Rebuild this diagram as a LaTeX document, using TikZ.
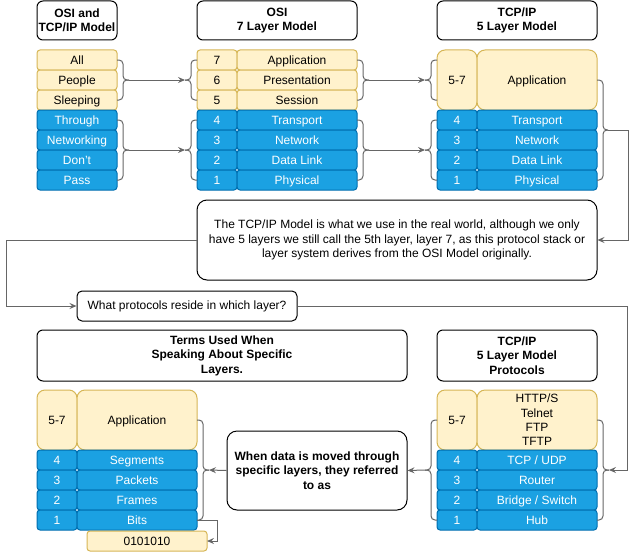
\documentclass[tikz,border=0pt]{standalone}
\usepackage{fontspec}
\setmainfont{Liberation Sans}
\usepackage{tikz}
\usetikzlibrary{calc}
\usetikzlibrary{positioning}
\usetikzlibrary{arrows.meta}

\definecolor{upfill}{HTML}{FFF2CC}
\definecolor{updraw}{HTML}{D6B656}
\definecolor{lowfill}{HTML}{1BA1E2}
\definecolor{lowdraw}{HTML}{006EAF}
\definecolor{wire}{HTML}{666666}

\tikzset{
    cell/.style={rectangle, rounded corners=3pt, minimum height=20pt, inner sep=0pt, outer sep=0pt, line width=1pt, align=center, text height=10pt, text depth=0.6pt, font=\fontsize{12}{14.4}\selectfont},
    upper/.style={cell, fill=upfill, draw=updraw, text=black},
    lower/.style={cell, fill=lowfill, draw=lowdraw, text=white},
    numw/.style={minimum width=40pt},
    namew/.style={minimum width=120pt},
    tall/.style={minimum height=60pt, rounded corners=8pt},
    heading/.style={rectangle, rounded corners=6pt, draw=black, fill=white, line width=1pt, inner sep=0pt, align=center, font=\fontsize{12}{14.4}\selectfont\bfseries},
    note/.style={rectangle, rounded corners=10pt, draw=black, fill=white, line width=1pt, inner sep=0pt, align=center, font=\fontsize{12}{14.4}\selectfont},
    bracket/.style={draw=wire, line width=1pt, rounded corners=4pt},
    link/.style={draw=wire, line width=1pt, rounded corners=0pt, -{Stealth[length=7pt, width=6pt, inset=2.5pt]}},
}

\begin{document}
\begin{tikzpicture}[x=1pt, y=-1pt]
    \useasboundingbox (0,0) rectangle (636,551);

    % headings
    \node [heading, minimum width=80pt, minimum height=39pt] (headmix) at (77,20.5) {OSI and\\TCP/IP Model};
    \node [heading, minimum width=160pt, minimum height=39pt] (headosi) at (277,20.5) {OSI\\7 Layer Model};
    \node [heading, minimum width=160pt, minimum height=39pt] (headtcp) at (517,20.5) {TCP/IP\\5 Layer Model};
    \node [heading, minimum width=370pt, minimum height=51pt] (headterms) at (222,355.5) {Terms Used When\\Speaking About Specific\\Layers.};
    \node [heading, minimum width=160pt, minimum height=51pt] (headproto) at (517,355.5) {TCP/IP\\5 Layer Model\\Protocols};

    % mnemonic
    \foreach \word [count=\i] in {All, People, Sleeping}
        \node [upper, minimum width=80pt] (m\i) at (77,40+20*\i) {\word};
    \foreach \word [count=\i from 4] in {Through, Networking, Don't, Pass}
        \node [lower, minimum width=80pt] (m\i) at (77,40+20*\i) {\word};

    % OSI model
    \foreach \num/\word [count=\i] in {7/Application, 6/Presentation, 5/Session} {
        \node [upper, numw] (on\i) at (217,40+20*\i) {\num};
        \node [upper, namew, right=0pt of on\i] (ow\i) {\word};
    }
    \foreach \num/\word [count=\i from 4] in {4/Transport, 3/Network, 2/{Data Link}, 1/Physical} {
        \node [lower, numw] (on\i) at (217,40+20*\i) {\num};
        \node [lower, namew, right=0pt of on\i] (ow\i) {\word};
    }

    % TCP/IP model
    \node [upper, numw, tall] (t57) at (457,80) {5-7};
    \node [upper, namew, tall, right=0pt of t57] (tapp) {Application};
    \foreach \num/\word [count=\i from 4] in {4/Transport, 3/Network, 2/{Data Link}, 1/Physical} {
        \node [lower, numw] (tn\i) at (457,40+20*\i) {\num};
        \node [lower, namew, right=0pt of tn\i] (tw\i) {\word};
    }

    % terms
    \node [upper, numw, tall] (s57) at (57,420) {5-7};
    \node [upper, namew, tall, right=0pt of s57] (sapp) {Application};
    \foreach \num/\word [count=\i] in {4/Segments, 3/Packets, 2/Frames, 1/Bits} {
        \node [lower, numw] (sn\i) at (57,440+20*\i) {\num};
        \node [lower, namew, right=0pt of sn\i] (sw\i) {\word};
    }
    \node [upper, minimum width=120pt] (bin) at (147,541) {0101010};

    % protocols
    \node [upper, numw, tall] (p57) at (457,420) {5-7};
    \node [upper, namew, tall, text height=, text depth=, right=0pt of p57] (papp) {HTTP/S\\Telnet\\FTP\\TFTP};
    \foreach \num/\word [count=\i] in {4/{TCP / UDP}, 3/Router, 2/{Bridge / Switch}, 1/Hub} {
        \node [lower, numw] (pn\i) at (457,440+20*\i) {\num};
        \node [lower, namew, right=0pt of pn\i] (pw\i) {\word};
    }

    % notes
    \node [note, minimum width=400pt, minimum height=80pt] (story) at (397,240) {The TCP/IP Model is what we use in the real world, although we only\\have 5 layers we still call the 5th layer, layer 7, as this protocol stack or\\layer system derives from the OSI Model originally.};
    \node [note, rounded corners=5pt, minimum width=220pt, minimum height=30pt] (ask) at (187,306) {What protocols reside in which layer?};
    \node [note, font=\fontsize{12}{14.4}\selectfont\bfseries, minimum width=180pt, minimum height=79pt] (when) at (317,470.5) {When data is moved through\\specific layers, they referred\\to as};

    % brackets
    \coordinate (mixtop) at ($(m2.east)+(12,0)$);
    \coordinate (mixlow) at ($(m5.east)!0.5!(m6.east)+(12,0)$);
    \draw [bracket] (m1.east) -- ++(6,0) |- (mixtop);
    \draw [bracket] (m3.east) -- ++(6,0) |- (mixtop);
    \draw [bracket] (m4.east) -- ++(6,0) |- (mixlow);
    \draw [bracket] (m7.east) -- ++(6,0) |- (mixlow);

    \coordinate (ositop) at ($(on2.west)+(-12,0)$);
    \coordinate (osilow) at ($(on5.west)!0.5!(on6.west)+(-12,0)$);
    \draw [bracket] (on1.west) -- ++(-6,0) |- (ositop);
    \draw [bracket] (on3.west) -- ++(-6,0) |- (ositop);
    \draw [bracket] (on4.west) -- ++(-6,0) |- (osilow);
    \draw [bracket] (on7.west) -- ++(-6,0) |- (osilow);

    \coordinate (ositopr) at ($(ow2.east)+(12,0)$);
    \coordinate (osilowr) at ($(ow5.east)!0.5!(ow6.east)+(12,0)$);
    \draw [bracket] (ow1.east) -- ++(6,0) |- (ositopr);
    \draw [bracket] (ow3.east) -- ++(6,0) |- (ositopr);
    \draw [bracket] (ow4.east) -- ++(6,0) |- (osilowr);
    \draw [bracket] (ow7.east) -- ++(6,0) |- (osilowr);

    \coordinate (tcptop) at ($(t57.west)+(-12,0)$);
    \coordinate (tcplow) at ($(tn5.west)!0.5!(tn6.west)+(-12,0)$);
    \draw [bracket] ($(t57.west)+(0,-20)$) -- ++(-6,0) |- (tcptop);
    \draw [bracket] ($(t57.west)+(0,20)$) -- ++(-6,0) |- (tcptop);
    \draw [bracket] (tn4.west) -- ++(-6,0) |- (tcplow);
    \draw [bracket] (tn7.west) -- ++(-6,0) |- (tcplow);

    \coordinate (tcpright) at ($(tapp.east)!0.5!(tw7.east)+(11,0)$);
    \draw [bracket] (tapp.east) -- ++(6,0) |- (tcpright);
    \draw [bracket] (tw7.east) -- ++(6,0) |- (tcpright);

    \coordinate (termright) at ($(sapp.east)!0.5!(sw4.east)+(12,0)$);
    \draw [bracket] (sapp.east) -- ++(6,0) |- (termright);
    \draw [bracket] (sw4.east) -- ++(6,0) |- (termright);

    \coordinate (protleft) at ($(p57.west)!0.5!(pn4.west)+(-12,0)$);
    \coordinate (protright) at ($(papp.east)!0.5!(pw4.east)+(12,0)$);
    \draw [bracket] (p57.west) -- ++(-6,0) |- (protleft);
    \draw [bracket] (pn4.west) -- ++(-6,0) |- (protleft);
    \draw [bracket] (papp.east) -- ++(6,0) |- (protright);
    \draw [bracket] (pw4.east) -- ++(6,0) |- (protright);

    % arrows
    \draw [link] (mixtop) -- (ositop);
    \draw [link] (mixlow) -- (osilow);
    \draw [link] (ositopr) -- (tcptop);
    \draw [link] (osilowr) -- (tcplow);
    \draw [link] (tcpright) -- ++(20,0) |- (story.east);
    \draw [link] (story.west) -- ++(-190,0) |- (ask.west);
    \draw [link] (ask.east) -| ($(protright)+(18,0)$) -- (protright);
    \draw [link] (protleft) -- (when.east);
    \draw [link] (when.west) -- (termright);
    \draw [link] (sw4.east) -- ++(20,0) |- (bin.east);
\end{tikzpicture}
\end{document}
